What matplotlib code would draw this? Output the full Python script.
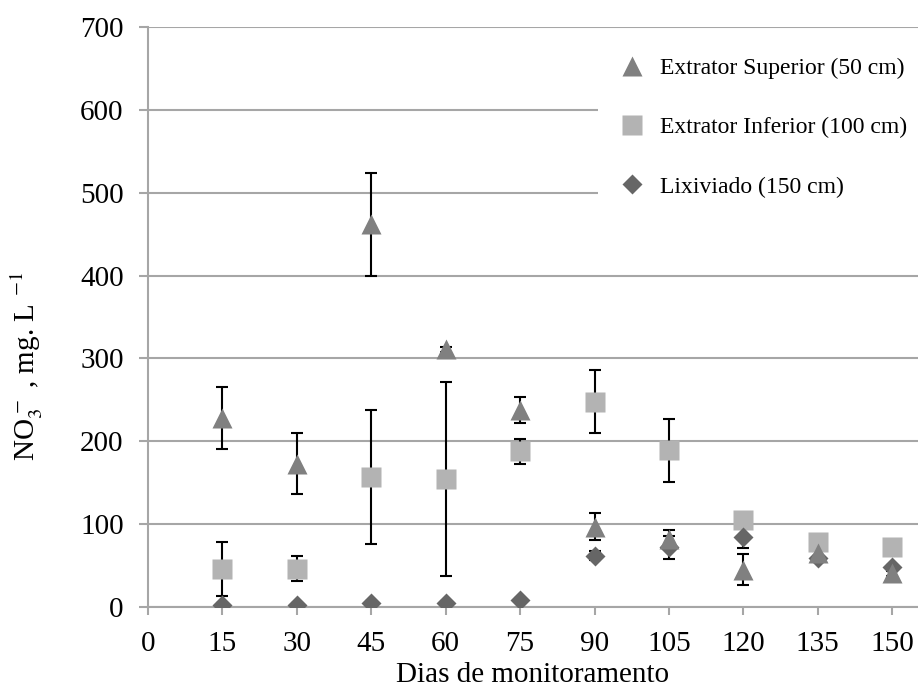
import matplotlib.pyplot as plt

plt.rcParams['font.family'] = ['Liberation Serif', 'DejaVu Serif']
plt.rcParams['mathtext.fontset'] = 'stix'

dias = [15, 30, 45, 60, 75, 90, 105, 120, 135, 150]

superior = [228, 173, 462, 311, 238, 97, 82, 45, 65, 41]
superior_err = [37, 37, 62, 3, 16, 16, 11, 19, 3, 3]

inferior = [46, 46, 157, 154, 188, 248, 189, 105, 79, 73]
inferior_err = [33, 15, 81, 117, 15, 38, 38, 3, 3, 3]

lixiviado = [3, 3, 5, 5, 9, 62, 72, 85, 59, 48]
lixiviado_err = [2, 2, 2, 2, 2, 5, 14, 14, 3, 3]

fig = plt.figure(figsize=(9.18, 6.89), dpi=100)
ax = fig.add_axes([148/918, 82/689, 770/918, 580/689])

ekw = dict(fmt='none', ecolor='black', elinewidth=1.5, capsize=4.5, capthick=1.5)
ax.errorbar(dias, inferior, yerr=inferior_err, zorder=2, **ekw)
ax.errorbar(dias, lixiviado, yerr=lixiviado_err, zorder=2, **ekw)
ax.errorbar(dias, superior, yerr=superior_err, zorder=2, **ekw)

ax.plot(dias, inferior, 's', color='#b3b3b3', ms=14, mec='none', zorder=3,
        label='Extrator Inferior (100 cm)')
ax.plot(dias, lixiviado, 'D', color='#666666', ms=10.5, mec='none', zorder=4,
        label='Lixiviado (150 cm)')
ax.plot(dias, superior, '^', color='#808080', ms=15, mec='none', zorder=5,
        label='Extrator Superior (50 cm)')

ax.set_xlim(0, 155.2)
ax.set_ylim(0, 700)
ax.set_xticks(range(0, 151, 15))
ax.set_yticks(range(0, 701, 100))
ax.yaxis.grid(True, color='#a6a6a6', linewidth=1.5)
ax.set_axisbelow(True)
for s in ['top', 'right']:
    ax.spines[s].set_visible(False)
for s in ['bottom', 'left']:
    ax.spines[s].set_color('#a6a6a6')
    ax.spines[s].set_linewidth(1.5)
ax.tick_params(axis='x', length=6, width=1.5, color='#a6a6a6', labelsize=21, pad=11)
ax.tick_params(axis='y', length=6.5, width=1.5, color='#a6a6a6', labelsize=21, pad=11)

ax.set_xlabel('Dias de monitoramento', fontsize=21, labelpad=4)
ax.set_ylabel(r'NO$_3^{\,-}$ , mg. L $^{-1}$', fontsize=21)
ax.yaxis.set_label_coords(-0.134, 0.415)

handles, labels = ax.get_legend_handles_labels()
order = [2, 0, 1]
leg = fig.legend([handles[i] for i in order], [labels[i] for i in order],
                 loc='upper left', bbox_to_anchor=(598/918, 1 - 41/689),
                 fontsize=17, frameon=True, facecolor='white', edgecolor='none',
                 framealpha=1, labelspacing=1.6, handletextpad=0.42,
                 borderaxespad=0, borderpad=0.7, handlelength=1.5)

plt.savefig('out.png')
plt.close()
